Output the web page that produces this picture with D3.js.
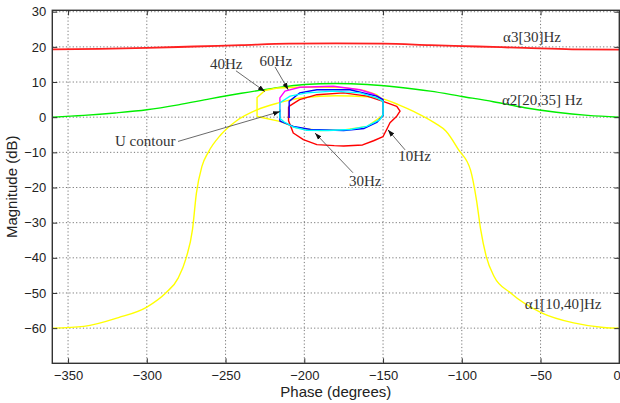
<!DOCTYPE html>
<html><head><meta charset="utf-8">
<script src="https://cdn.jsdelivr.net/npm/d3@7"></script>
<style>body{margin:0;background:#fff}svg{display:block}</style>
</head><body><svg id="c" width="620" height="403"></svg>
<script>
// ---------- data ----------
const phaseTicks = [-350,-300,-250,-200,-150,-100,-50,0];
const magTicks = [30,20,10,0,-10,-20,-30,-40,-50,-60];

// alpha3 [30] Hz (red)
const a3Phase = [-360,-330,-300,-270,-240,-210,-180,-150,-120,-90,-60,-30,0];
const a3Mag   = [19.3,19.4,19.7,20.1,20.5,20.9,21.0,20.9,20.5,20.1,19.7,19.3,19.2];
// alpha2 [20,35] Hz (green)
const a2Phase = [-360,-340,-320,-300,-280,-260,-240,-220,-200,-180,-160,-140,-120,-100,-80,-60,-40,-20,0];
const a2Mag   = [0,0.5,1.2,2.1,3.5,5.2,6.8,8.2,9.3,9.6,9.3,8.5,7.4,5.9,4.4,2.7,1.4,0.5,0];
// alpha1 [10,40] Hz (yellow)
const a1Phase = [-360,-340,-318,-300,-288,-280,-275,-271,-268.5,-265,-261,-253,-243,-230,-217,-200,-180,-160,-150,-140,-130,-117,-110,-102,-94.5,-90.7,-88,-84.5,-79.5,-69,-49,-29,-10,0];
const a1Mag   = [-60,-59.5,-57,-54,-50,-45.7,-40,-32,-21.6,-14,-10,-5,-1,2.1,4.0,5.6,6.1,5.8,5.2,3.5,1.5,-1.7,-4.0,-9.3,-15,-23.5,-32,-39.6,-45.3,-50,-55.7,-58.5,-59.8,-60];

// 40 Hz bound (yellow)
const b40Phase = [-230,-230,-225,-217,-205,-190,-175,-162,-154,-150,-150,-160,-175,-190,-205,-215.5,-230];
const b40Mag   = [0.2,5.6,7.6,8.3,8.5,8.6,8.4,7.6,6.4,5.0,0.5,-2.6,-3.6,-3.8,-3.0,-1.2,0.2];
// 10 Hz bound (red)
const b10Phase = [-210,-203,-192,-175,-160,-150,-141.3,-139.2,-141.3,-145.6,-147.7,-150,-156,-163,-175,-181,-192,-200.6,-207,-210,-210];
const b10Mag   = [3.0,5.0,6.4,6.9,6.0,4.5,3.1,1.7,0.3,-1.6,-3.5,-5.5,-6.7,-7.9,-8.2,-8.1,-7.8,-6.4,-4.5,-1.0,3.0];
// 60 Hz bound (magenta)
const b60Phase = [-215.5,-215.5,-212.3,-202.8,-181.6,-164.6,-156,-150];
const b60Mag   = [1.5,5.5,7.4,8.5,8.8,7.8,6.6,5.0];
// 30 Hz bound (blue)
const b30Phase = [-209.6,-209.6,-203,-192,-171,-154,-150,-150,-154,-162,-175,-196,-207,-215.5,-215.5];
const b30Mag   = [-0.2,4.5,6.9,7.8,7.8,6.0,5.0,0.5,-1.5,-3.2,-3.8,-3.5,-2.6,-1.1,2.2];
// U contour (cyan)
const uPhase = [-215.5,-215.5,-209,-198.5,-181.6,-164.6,-154,-150,-150,-152,-160.4,-171,-185,-199,-207,-213,-215.5];
const uMag   = [-0.3,4.1,6.0,6.9,7.4,6.9,5.5,4.5,0.7,-0.7,-2.6,-3.5,-3.8,-3.7,-2.8,-1.3,-0.3];

// labels: text, text anchor (phase, dB), optional arrow from -> tip
const labels = [
  {t:"\u03b13[30]Hz", p:-73.8, m:21.4},
  {t:"\u03b12[20,35] Hz", p:-74.5, m:3.5},
  {t:"\u03b11[10,40]Hz", p:-60, m:-54.5},
  {t:"40Hz", p:-259.9, m:13.7, a:[-243.4,13.2,-225,7.3]},
  {t:"60Hz", p:-228.4, m:14.6, a:[-218.6,14.3,-210.2,7.8]},
  {t:"U contour", p:-320.2, m:-8.2, a:[-280.2,-6.9,-215.4,1.6]},
  {t:"30Hz", p:-171.6, m:-19.5, a:[-169.1,-15.8,-193.2,-4.5]},
  {t:"10Hz", p:-140.3, m:-12.4, a:[-136,-9.3,-146.9,-3.6]}
];

// ---------- drawing ----------
const svg = d3.select("#c");
const L = 52.3, R = 619.3, T = 10.3, B = 363.3;
const x = d3.scaleLinear().domain([-360,0]).range([L,R]);
const y = d3.scaleLinear().domain([-70,30.4]).range([B,T]);

svg.append("rect").attr("width",620).attr("height",403).attr("fill","#fff");

// grid
const grid = svg.append("g");
grid.selectAll("line.v").data(phaseTicks.filter(d=>d<0)).join("line")
  .attr("x1",d=>x(d)).attr("x2",d=>x(d)).attr("y1",T).attr("y2",B)
  .attr("stroke","#555").attr("stroke-width",0.8).attr("stroke-dasharray","1.2,2.2");
grid.selectAll("line.h").data(magTicks).join("line")
  .attr("y1",d=>y(d)).attr("y2",d=>y(d)).attr("x1",L).attr("x2",R)
  .attr("stroke","#555").attr("stroke-width",0.8).attr("stroke-dasharray","1.2,2.2");

const zip = (ps,ms)=>ps.map((p,i)=>[p,ms[i]]);
const lin = d3.line().x(d=>x(d[0])).y(d=>y(d[1]));
const mono = d3.line().x(d=>x(d[0])).y(d=>y(d[1])).curve(d3.curveMonotoneX);

const plot = svg.append("g");
function draw(gen, pts, color, w){
  plot.append("path").attr("d",gen(pts)).attr("fill","none")
    .attr("stroke",color).attr("stroke-width",w).attr("stroke-linejoin","round");
}
draw(mono, zip(a3Phase,a3Mag), "#ff2020", 1.8);
draw(mono, zip(a2Phase,a2Mag), "#00ee00", 1.4);
draw(mono, zip(a1Phase,a1Mag), "#ffff00", 1.4);
draw(lin, zip(b40Phase,b40Mag), "#ffff00", 1.4);
draw(lin, zip(b10Phase,b10Mag), "#ff0000", 1.4);
draw(lin, zip(b60Phase,b60Mag), "#ff00ff", 1.4);
draw(lin, zip(b30Phase,b30Mag), "#0000ff", 1.4);
draw(lin, zip(uPhase,uMag), "#00ffff", 1.4);

// axes
const axColor = "#333";
const ax = svg.append("g").attr("font-family","'Liberation Sans', Arial, sans-serif");
const yAx = ax.append("g").attr("transform",`translate(${L},0)`)
  .call(d3.axisLeft(y).tickValues(magTicks).tickSize(-5).tickPadding(6));
const xAx = ax.append("g").attr("transform",`translate(0,${B})`)
  .call(d3.axisBottom(x).tickValues(phaseTicks).tickSize(-5).tickPadding(7));
ax.append("g").attr("transform",`translate(${R},0)`)
  .call(d3.axisRight(y).tickValues(magTicks).tickSize(-5).tickFormat(""));
ax.append("g").attr("transform",`translate(0,${T})`)
  .call(d3.axisTop(x).tickValues(phaseTicks).tickSize(-5).tickFormat(""));
ax.selectAll(".domain").remove();
ax.selectAll(".tick line").attr("stroke",axColor).attr("stroke-width",1);
ax.selectAll(".tick text").attr("fill","#222").attr("font-size",13);
// keep the last x tick label inside the picture
xAx.selectAll(".tick text").filter(d=>d===0).attr("text-anchor","end").attr("dx",1);
svg.append("rect").attr("x",L).attr("y",T).attr("width",R-L).attr("height",B-T)
  .attr("fill","none").attr("stroke",axColor).attr("stroke-width",1.4);

// axis titles
svg.append("text").attr("x",(L+R)/2).attr("y",397).attr("text-anchor","middle")
  .attr("font-family","'Liberation Sans', Arial, sans-serif").attr("font-size",15).attr("fill","#222")
  .text("Phase (degrees)");
svg.append("text").attr("transform",`translate(17,${(T+B)/2}) rotate(-90)`).attr("text-anchor","middle")
  .attr("font-family","'Liberation Sans', Arial, sans-serif").attr("font-size",15).attr("fill","#222")
  .text("Magnitude (dB)");

// annotations
const defs = svg.append("defs");
defs.append("marker").attr("id","ah").attr("viewBox","0 0 10 10").attr("refX",10).attr("refY",5)
  .attr("markerWidth",7).attr("markerHeight",7).attr("markerUnits","userSpaceOnUse").attr("orient","auto")
  .append("path").attr("d","M0,1.5L10,5L0,8.5Z").attr("fill","#111");
const ann = svg.append("g");
labels.filter(d=>d.a).forEach(d=>{
  ann.append("line").attr("x1",x(d.a[0])).attr("y1",y(d.a[1])).attr("x2",x(d.a[2])).attr("y2",y(d.a[3]))
    .attr("stroke","#444").attr("stroke-width",0.8).attr("marker-end","url(#ah)");
});
ann.selectAll("text").data(labels).join("text")
  .attr("x",d=>x(d.p)).attr("y",d=>y(d.m))
  .attr("font-family","'Liberation Serif', 'Times New Roman', serif").attr("font-size",15).attr("fill","#333")
  .text(d=>d.t);
</script></body></html>
